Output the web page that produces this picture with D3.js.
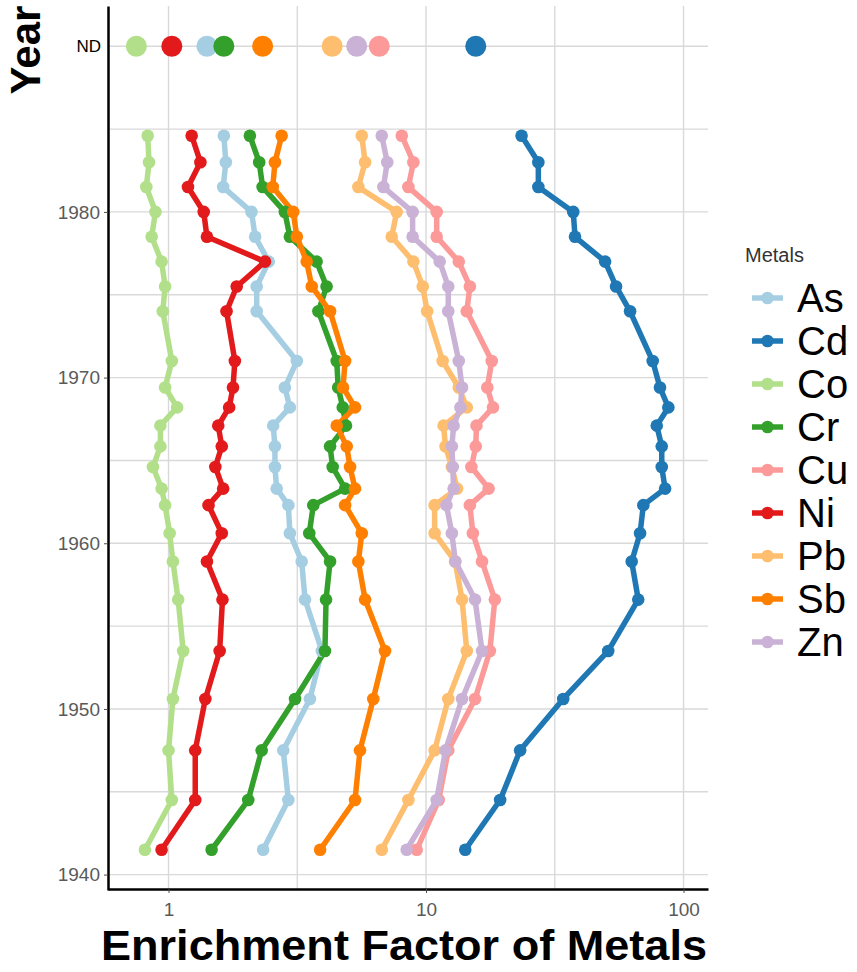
<!DOCTYPE html>
<html>
<head>
<meta charset="utf-8">
<script src="https://cdn.jsdelivr.net/npm/d3@7"></script>
<style>
  body { margin: 0; background: #fff; }
  svg { display: block; font-family: "Liberation Sans", Arial, sans-serif; }
</style>
</head>
<body>
<svg id="chart" width="857" height="972"></svg>
<script>
// Sediment core: enrichment factor of each metal by deposition year
const metals = ["As", "Cd", "Co", "Cr", "Cu", "Ni", "Pb", "Sb", "Zn"];
const colors = ["#a6cee3", "#1f78b4", "#b2df8a", "#33a02c", "#fb9a99", "#e31a1c", "#fdbf6f", "#ff7f00", "#cab2d6"];

const years = [1984.6, 1983.0, 1981.5, 1980.0, 1978.5, 1977.0, 1975.5, 1974.0, 1971.0, 1969.4, 1968.2, 1967.1,
               1965.85, 1964.6, 1963.3, 1962.3, 1960.6, 1958.9, 1956.6, 1953.5, 1950.6, 1947.5, 1944.5, 1941.5];

const efAs = [1.64, 1.67, 1.63, 2.10, 2.17, 2.45, 2.20, 2.20, 3.15, 2.83, 2.96, 2.55, 2.59, 2.59, 2.63, 2.92, 2.96, 3.29, 3.39, 3.94, 3.54, 2.79, 2.92, 2.33];
const efCd = [23.5, 27.3, 27.3, 37.3, 37.9, 49.6, 54.7, 62.0, 75.9, 81.0, 87.3, 78.7, 82.3, 82.3, 84.8, 69.8, 67.8, 62.9, 66.7, 51.0, 34.1, 23.2, 19.4, 14.2];
const efCo = [0.83, 0.84, 0.82, 0.89, 0.86, 0.94, 0.97, 0.95, 1.03, 0.97, 1.08, 0.93, 0.93, 0.87, 0.94, 0.97, 1.01, 1.04, 1.09, 1.14, 1.04, 1.00, 1.03, 0.81];
const efCr = [2.07, 2.25, 2.32, 2.83, 2.96, 3.76, 4.11, 3.82, 4.50, 4.56, 4.75, 4.89, 4.24, 4.34, 4.85, 3.65, 3.52, 4.24, 4.09, 4.05, 3.10, 2.30, 2.04, 1.47];
const efCu = [8.05, 8.93, 8.54, 11.0, 11.0, 13.4, 14.8, 14.4, 18.0, 17.3, 18.2, 15.7, 15.6, 15.0, 17.5, 14.8, 15.2, 16.5, 18.5, 17.7, 15.5, 12.2, 11.2, 9.2];
const efNi = [1.23, 1.33, 1.19, 1.37, 1.41, 2.37, 1.84, 1.68, 1.81, 1.78, 1.72, 1.56, 1.61, 1.52, 1.63, 1.43, 1.61, 1.41, 1.62, 1.58, 1.39, 1.27, 1.27, 0.94];
const efPb = [5.63, 5.80, 5.46, 7.69, 7.36, 8.93, 9.71, 10.1, 11.6, 13.4, 14.4, 11.7, 11.9, 12.6, 13.2, 10.8, 10.8, 12.97, 13.8, 14.4, 12.2, 10.8, 8.54, 6.73];
const efSb = [2.75, 2.59, 2.54, 3.05, 3.15, 3.44, 3.60, 4.24, 4.85, 4.76, 5.30, 4.50, 4.92, 5.07, 5.30, 4.85, 5.63, 5.46, 5.80, 6.93, 6.24, 5.54, 5.30, 3.88];
const efZn = [6.73, 7.07, 6.83, 8.87, 8.87, 11.3, 12.2, 12.2, 13.4, 13.8, 13.6, 12.8, 12.6, 12.7, 12.8, 12.0, 12.6, 13.0, 15.5, 16.5, 13.8, 11.9, 11.0, 8.41];

// Samples without a date ("ND"), one value per metal in the order of `metals`
const ndValues = [1.41, 15.6, 0.75, 1.64, 6.58, 1.03, 4.32, 2.32, 5.38];
const ndYear = 1990;

const yearTicks = [1940, 1950, 1960, 1970, 1980];
const yearGrid = [1940, 1945, 1950, 1955, 1960, 1965, 1970, 1975, 1980, 1985, 1990];
const efTicks = [1, 10, 100];
const efGrid = [1, Math.sqrt(10), 10, Math.sqrt(1000), 100];

const series = [efAs, efCd, efCo, efCr, efCu, efNi, efPb, efSb, efZn];

// ---- layout ----
const panel = { left: 108, right: 708, top: 6, bottom: 890 };
const svg = d3.select("#chart");

const x = d3.scaleLog().domain([Math.pow(10, -0.235), Math.pow(10, 2.095)]).range([panel.left, panel.right]);
const y = d3.scaleLinear().domain([1939.07, 1992.43]).range([panel.bottom, panel.top]);
const color = d3.scaleOrdinal().domain(metals).range(colors);

// grid
const grid = svg.append("g").attr("stroke", "#d9d9d9").attr("stroke-width", 1.4);
grid.selectAll("line.h").data(yearGrid).join("line")
  .attr("x1", panel.left).attr("x2", panel.right)
  .attr("y1", d => y(d)).attr("y2", d => y(d));
grid.selectAll("line.v").data(efGrid).join("line")
  .attr("x1", d => x(d)).attr("x2", d => x(d))
  .attr("y1", panel.top).attr("y2", panel.bottom);

// data
const data = metals.map((m, i) => ({
  metal: m,
  points: years.map((yr, j) => ({ year: yr, value: series[i][j] }))
}));

const line = d3.line().x(d => x(d.value)).y(d => y(d.year));

svg.append("g").selectAll("path").data(data).join("path")
  .attr("d", d => line(d.points))
  .attr("fill", "none")
  .attr("stroke", d => color(d.metal))
  .attr("stroke-width", 5.5)
  .attr("stroke-linejoin", "round")
  .attr("stroke-linecap", "round");

svg.append("g").selectAll("g").data(data).join("g")
  .attr("fill", d => color(d.metal))
  .selectAll("circle").data(d => d.points).join("circle")
  .attr("cx", d => x(d.value))
  .attr("cy", d => y(d.year))
  .attr("r", 6.3);

// undated samples, drawn left to right
const nd = metals.map((m, i) => ({ metal: m, value: ndValues[i] }))
  .sort((a, b) => a.value - b.value);
svg.append("g").selectAll("circle").data(nd).join("circle")
  .attr("cx", d => x(d.value))
  .attr("cy", y(ndYear))
  .attr("r", 10.5)
  .attr("fill", d => color(d.metal));

// axes
const yAxis = d3.axisLeft(y)
  .tickValues(yearTicks.concat([ndYear]))
  .tickFormat(d => d === ndYear ? "ND" : d)
  .tickSize(4).tickSizeOuter(0).tickPadding(4);
const gy = svg.append("g").attr("transform", `translate(${panel.left},0)`).call(yAxis);
gy.select(".domain").attr("stroke", "#000").attr("stroke-width", 2.5);
gy.selectAll(".tick line").attr("stroke", "#4d4d4d");
gy.selectAll(".tick text").attr("fill", "#5a5a5a").attr("font-size", 19)
  .attr("font-family", "Liberation Sans, Arial, sans-serif");
gy.selectAll(".tick").filter(d => d === ndYear)
  .select("text").attr("fill", "#000").attr("font-size", 17).attr("x", -7);
gy.selectAll(".tick").filter(d => d === ndYear).select("line").remove();

const xAxis = d3.axisBottom(x)
  .tickValues(efTicks)
  .tickFormat(d3.format("d"))
  .tickSize(4).tickSizeOuter(0).tickPadding(10);
const gx = svg.append("g").attr("transform", `translate(0,${panel.bottom - 1})`).call(xAxis);
gx.select(".domain").attr("stroke", "#000").attr("stroke-width", 2.5);
gx.selectAll(".tick line").attr("stroke", "#4d4d4d");
gx.selectAll(".tick text").attr("fill", "#5a5a5a").attr("font-size", 19)
  .attr("font-family", "Liberation Sans, Arial, sans-serif");

// axis titles
svg.append("text")
  .attr("x", 404).attr("y", 960)
  .attr("text-anchor", "middle")
  .attr("font-size", 43).attr("font-weight", "bold").attr("fill", "#000")
  .attr("textLength", 606).attr("lengthAdjust", "spacingAndGlyphs")
  .text("Enrichment Factor of Metals");

svg.append("text")
  .attr("transform", "translate(40,50) rotate(-90)")
  .attr("text-anchor", "middle")
  .attr("font-size", 42).attr("font-weight", "bold").attr("fill", "#000")
  .text("Year");

// legend
const legend = svg.append("g").attr("transform", "translate(745,0)");
legend.append("text")
  .attr("x", 0).attr("y", 262)
  .attr("font-size", 20).attr("fill", "#333")
  .text("Metals");
const item = legend.selectAll("g.item").data(metals).join("g")
  .attr("class", "item")
  .attr("transform", (d, i) => `translate(0,${298 + i * 43})`);
item.append("line")
  .attr("x1", 7).attr("x2", 38).attr("y1", 0).attr("y2", 0)
  .attr("stroke", d => color(d)).attr("stroke-width", 5.5);
item.append("circle")
  .attr("cx", 22.5).attr("cy", 0).attr("r", 6.3)
  .attr("fill", d => color(d));
item.append("text")
  .attr("x", 52).attr("y", 0).attr("dy", "0.36em")
  .attr("font-size", 40).attr("fill", "#000")
  .text(d => d);
</script>
</body>
</html>
